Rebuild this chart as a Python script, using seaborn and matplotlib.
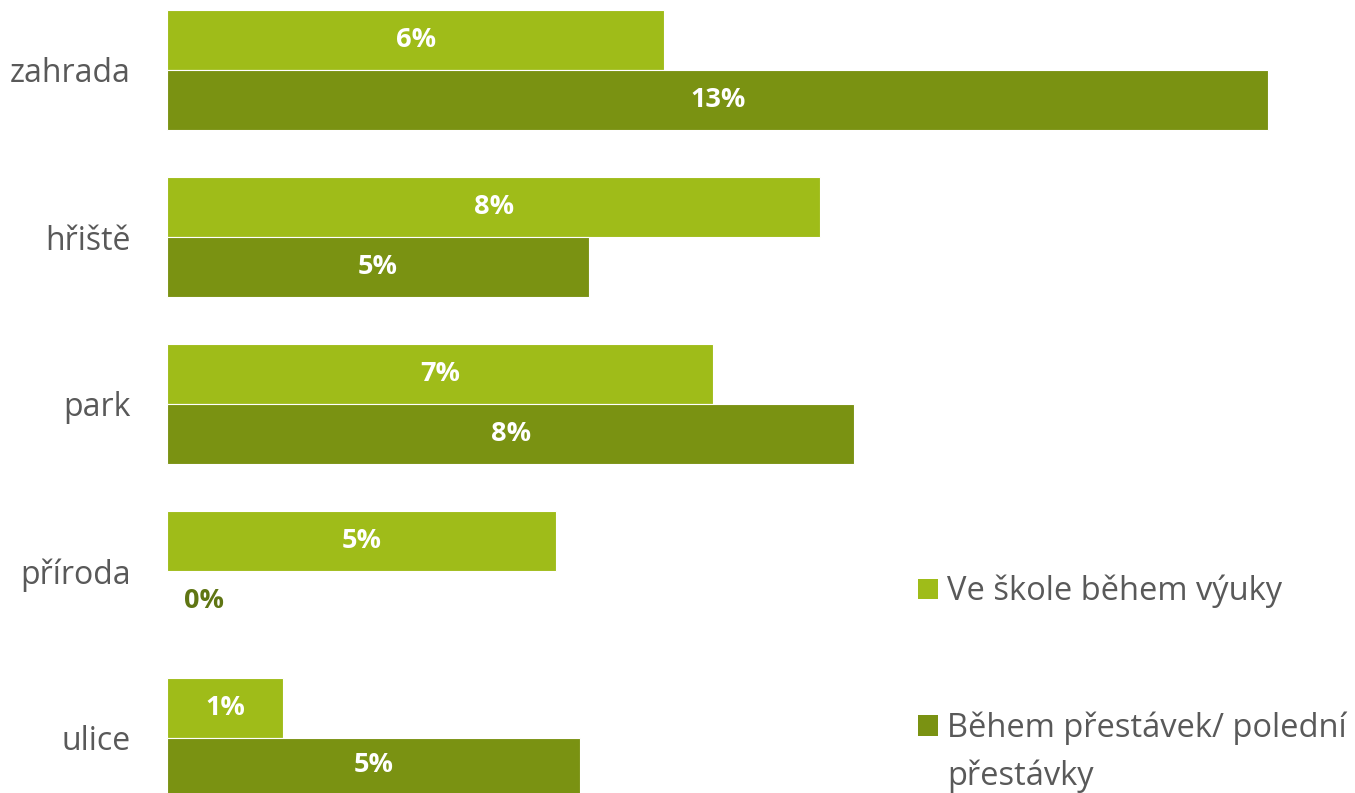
import matplotlib
matplotlib.use("Agg")
import matplotlib.pyplot as plt
import seaborn as sns
import pandas as pd
from matplotlib.patches import Patch

categories = ["zahrada", "hřiště", "park", "příroda", "ulice"]
series_names = ["Ve škole během výuky", "Během přestávek/ polední\npřestávky"]
ve_skole = [6.05, 7.95, 6.64, 4.73, 1.41]
prestavky = [13.4, 5.13, 8.36, 0.0, 5.03]
colors = ["#9FBC19", "#7A9212"]

df = pd.DataFrame({
    "kategorie": categories * 2,
    "hodnota": ve_skole + prestavky,
    "serie": [series_names[0]] * 5 + [series_names[1]] * 5,
})

sns.set_style("white")
plt.rcParams["font.family"] = ["Open Sans", "DejaVu Sans"]

W, H = 1355, 793
fig = plt.figure(figsize=(W / 100, H / 100), dpi=100)
ax = fig.add_axes([167 / W, 0, 1 - 167 / W, 1])

sns.barplot(data=df, y="kategorie", x="hodnota", hue="serie", orient="h",
            palette=colors, width=0.713, ax=ax, legend=False,
            edgecolor="white", linewidth=0.8, saturation=1)

for cont, vals in zip(ax.containers, [ve_skole, prestavky]):
    center_labels = [f"{v:.0f}%" if v > 0 else "" for v in vals]
    ax.bar_label(cont, labels=center_labels, label_type="center",
                 color="white", fontweight="bold", fontsize=19.5)
    zero_labels = [f"{v:.0f}%" if v == 0 else "" for v in vals]
    ax.bar_label(cont, labels=zero_labels, label_type="edge", padding=12,
                 color="#5F7513", fontweight="bold", fontsize=19.5)

ax.set_ylim(4 + 55 / 167, -70 / 167)
ax.set_xlim(0, 1188 / 82.2)
ax.set_xlabel("")
ax.set_ylabel("")
ax.set_xticks([])
ax.tick_params(axis="y", length=0, pad=26, labelsize=23, labelcolor="#595959")
for s in ax.spines.values():
    s.set_visible(False)

# legend: first line of each label in the legend, continuation lines as text below
first_lines = [n.split("\n")[0] for n in series_names]
handles = [Patch(facecolor=c, edgecolor="none") for c in colors]
leg = ax.legend(handles, first_lines, loc="upper left",
                bbox_to_anchor=(918 / W, 1 - 575 / H), bbox_transform=fig.transFigure,
                frameon=False, fontsize=23.5, labelspacing=3.15, borderpad=0,
                borderaxespad=0,
                handlelength=0.6, handleheight=0.6, handletextpad=0.3,
                labelcolor="#595959")

fig.canvas.draw()
renderer = fig.canvas.get_renderer()
for txt, name in zip(leg.get_texts(), series_names):
    rest = name.split("\n")[1:]
    if not rest:
        continue
    bb = txt.get_window_extent(renderer)
    for i, line in enumerate(rest, start=1):
        fig.text(bb.x0 / W, (bb.y0 - 48 * i) / H, line, fontsize=23.5,
                 color="#595959", ha="left", va="bottom")

fig.savefig("out.png", dpi=100)
